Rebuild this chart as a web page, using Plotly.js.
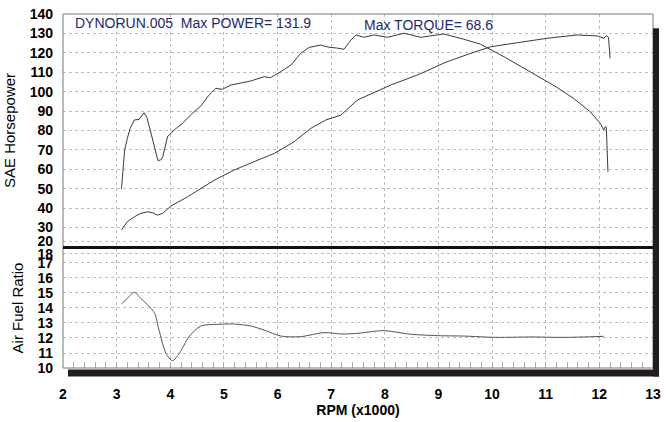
<!DOCTYPE html>
<html>
<head>
<meta charset="utf-8">
<script src="https://cdn.plot.ly/plotly-3.0.1.min.js"></script>
<style>html,body{margin:0;padding:0;background:#fff}#chart{width:669px;height:422px}</style>
</head>
<body>
<div id="chart"></div>
<script>
// Upper dyno curve (early bump, peaks mid-range)
const rpmPower = [3.09,3.12,3.15,3.2,3.25,3.33,3.42,3.51,3.56,3.61,3.7,3.77,3.82,3.86,3.95,4.07,4.23,4.38,4.57,4.72,4.85,4.97,5.13,5.31,5.5,5.75,5.87,6.06,6.25,6.43,6.59,6.8,6.97,7.1,7.24,7.35,7.46,7.61,7.8,8.05,8.36,8.67,9.1,9.47,9.78,10.22,10.65,10.87,11.21,11.52,11.83,12.02,12.08,12.11,12.13,12.16];
const powerHp = [50,62,70,76,81,85.4,85.7,89.1,87,81.9,71.6,64.5,64.8,66.4,76.8,80.2,83.7,88,92.6,98.2,101.7,101.2,103.4,104.3,105.5,107.7,107.2,110.3,113.7,119.7,122.8,124,122.8,122.5,121.8,126,129.2,128,129.2,128,130.1,128,129.7,127,124.5,118,111.1,107.4,102.2,96.5,89.6,83.6,80.2,82,81.6,58.7];
// Lower dyno curve (rising steadily)
const rpmTorque = [3.09,3.2,3.33,3.45,3.58,3.68,3.76,3.86,4.01,4.32,4.82,5.19,5.56,5.94,6.31,6.62,6.9,7.18,7.49,8.11,8.61,9.16,9.6,9.97,10.47,11.03,11.58,11.96,12.08,12.13,12.17,12.2];
const torqueVals = [28.7,33,35.5,37.3,38.1,37.5,36.4,37.3,41,45.8,54.4,59.6,63.9,68.2,74.2,81.1,85.4,87.9,95.7,103.4,108.6,115.4,119.7,123.1,125.2,127.5,129.2,128.7,127.5,128.7,128,117.2];
// Air fuel ratio
const rpmAfr = [3.09,3.2,3.33,3.45,3.61,3.71,3.79,3.92,4.04,4.17,4.35,4.57,4.88,5.19,5.5,5.75,6.06,6.43,6.87,7.18,7.49,7.98,8.48,9.04,9.47,10.09,10.71,11.33,12.08];
const afrVals = [14.27,14.64,15.05,14.64,14.09,13.64,12.53,10.98,10.49,10.98,12.09,12.8,12.91,12.93,12.8,12.53,12.13,12.09,12.36,12.27,12.31,12.49,12.25,12.15,12.13,12.04,12.07,12.04,12.11];

const xTickVals = [2,3,4,5,6,7,8,9,10,11,12,13];
const hpTickVals = [23,30,40,50,60,70,80,90,100,110,120,130,140];
const hpTickText = ['20','30','40','50','60','70','80','90','100','110','120','130','140'];
const afrTickVals = [10,11,12,13,14,15,16,17,17.6];
const afrTickText = ['10','11','12','13','14','15','16','17','18'];

const FONT = '"Liberation Sans", Arial, sans-serif';
const lineCol = '#3a3a3a';
const navy = '#1b2a6b';

const traces = [
  {x: rpmPower, y: powerHp, xaxis:'x', yaxis:'y', mode:'lines', name:'Power', line:{color:lineCol, width:1}},
  {x: rpmTorque, y: torqueVals, xaxis:'x', yaxis:'y', mode:'lines', name:'Torque', line:{color:lineCol, width:1}},
  {x: rpmAfr, y: afrVals, xaxis:'x', yaxis:'y2', mode:'lines', name:'AFR', line:{color:'#555', width:1, shape:'spline', smoothing:0.8}}
];

const grid = {showgrid:true, gridcolor:'#bdbdbd', griddash:'dot', gridwidth:1, zeroline:false};

const layout = {
  width:669, height:422,
  paper_bgcolor:'#fff', plot_bgcolor:'#fff',
  margin:{l:63, r:16, t:14, b:54},
  showlegend:false,
  font:{family:FONT, color:'#000'},
  xaxis: Object.assign({}, grid, {
    anchor:'y2', range:[2,13], tickvals:xTickVals, ticks:'inside', ticklen:6, tickcolor:'#aaa',
    minor:{dtick:0.2, tick0:2, ticks:'inside', ticklen:6, tickcolor:'#aaa', showgrid:false},
    tickfont:{family:FONT, size:14, color:'#000', weight:'bold'},
    ticklabelstandoff:16,
    title:{text:'RPM (x1000)', font:{family:FONT, size:14, color:'#000', weight:'bold'}, standoff:4},
    showline:false
  }),
  yaxis: Object.assign({}, grid, {
    domain:[0.342,1], range:[20,140], anchor:'x', tickvals:hpTickVals, ticktext:hpTickText,
    ticks:'', tickfont:{family:FONT, size:14, color:'#000', weight:'bold'}, ticklabelstandoff:9,
    title:{text:'SAE Horsepower', font:{family:FONT, size:15, color:'#000'}, standoff:10}
  }),
  yaxis2: Object.assign({}, grid, {
    domain:[0,0.339], range:[10,18], anchor:'x', tickvals:afrTickVals, ticktext:afrTickText,
    ticks:'', tickfont:{family:FONT, size:14, color:'#000', weight:'bold'}, ticklabelstandoff:9,
    title:{text:'Air Fuel Ratio', font:{family:FONT, size:15, color:'#000'}, standoff:10}
  }),
  shapes:[
    {type:'rect', xref:'paper', yref:'paper', x0:0, x1:1, y0:0, y1:1, line:{color:'#777', width:1}},
    {type:'line', xref:'paper', yref:'paper', x0:0, x1:1.002, y0:0.3405, y1:0.3405, line:{color:'#111', width:3}},
    {type:'rect', xref:'paper', yref:'paper', x0:0.0085, x1:1.0102, y0:-0.024, y1:-0.004, fillcolor:'#231c1c', line:{width:0}},
    {type:'rect', xref:'paper', yref:'paper', x0:1.0, x1:1.0102, y0:-0.024, y1:0.96, fillcolor:'#231c1c', line:{width:0}}
  ],
  annotations:[
    {xref:'paper', yref:'paper', x:0.017, y:0.975, xanchor:'left', yanchor:'middle', showarrow:false,
     text:'DYNORUN.005&nbsp;&nbsp;Max POWER= 131.9', font:{family:FONT, size:14, color:navy}},
    {xref:'paper', yref:'paper', x:0.507, y:0.968, xanchor:'left', yanchor:'middle', showarrow:false,
     text:'Max TORQUE= 68.6', font:{family:FONT, size:14, color:navy}}
  ]
};

Plotly.newPlot('chart', traces, layout, {displayModeBar:false, staticPlot:true});
</script>
</body>
</html>
